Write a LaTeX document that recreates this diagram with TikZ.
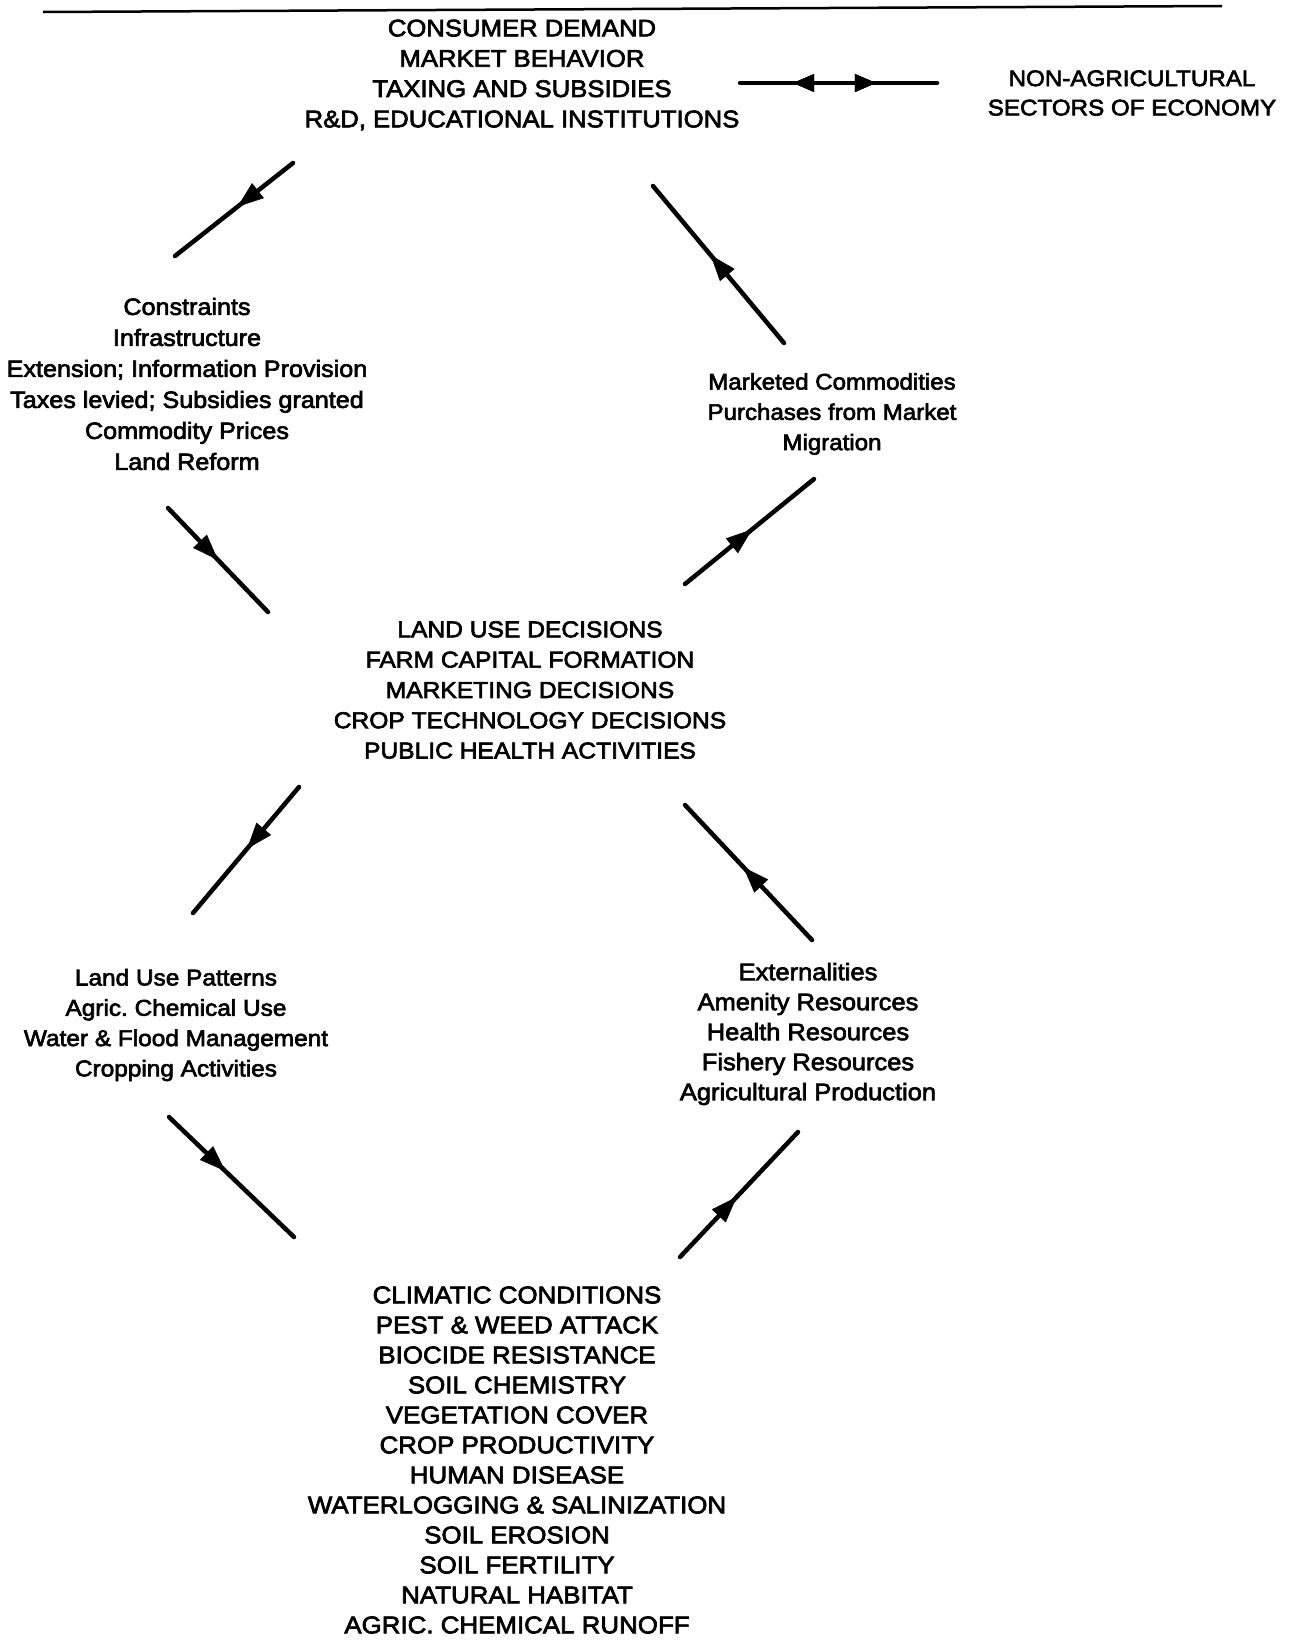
\documentclass[tikz,border=0pt]{standalone}
\usepackage{fontspec}
\setmainfont{Liberation Sans}[FakeStretch=1.07,FakeBold=2.8]
\usetikzlibrary{arrows.meta,decorations.markings}
\newcommand\blkfont[2]{\fontsize{#1}{#2}\selectfont}
\frenchspacing
\tikzset{
  lbl/.style={align=center, inner sep=0pt},
  conn/.style={line width=4.5pt, line cap=round},
  midarr/.style={postaction={decorate}, decoration={markings,
     mark=at position #1 with {\arrow{Triangle[length=26pt,width=19pt,line width=0.5pt]}}}},
  backarr/.style={postaction={decorate}, decoration={markings,
     mark=at position #1 with {\arrowreversed{Triangle[length=21pt,width=18pt,line width=0.5pt]}}}},
  fwdarr/.style={postaction={decorate}, decoration={markings,
     mark=at position #1 with {\arrow{Triangle[length=21pt,width=18pt,line width=0.5pt]}}}},
}
\begin{document}
\begin{tikzpicture}[x=1pt,y=-1pt]
\useasboundingbox (0,0) rectangle (1288,1641);
\fill[white] (0,0) rectangle (1288,1641);

% rule at top
\coordinate (r1) at (43,12);
\coordinate (r2) at (1222,6);
\draw[line width=2.5pt] (r1) -- (r2);

% text blocks
\node[lbl, font=\blkfont{24}{30.3}] (cd) at (522,75)
  {CONSUMER DEMAND\\MARKET BEHAVIOR\\TAXING AND SUBSIDIES\\R\&D, EDUCATIONAL INSTITUTIONS};
\node[lbl, font=\blkfont{22.6}{29.3}] (na) at (1132,93)
  {NON-AGRICULTURAL\\SECTORS OF ECONOMY};
\node[lbl, font=\blkfont{23.5}{31}] (con) at (187,384)
  {Constraints\\Infrastructure\\Extension; Information Provision\\Taxes levied; Subsidies granted\\Commodity Prices\\Land Reform};
\node[lbl, font=\blkfont{22.5}{30.3}] (mkt) at (832,414)
  {Marketed Commodities\\Purchases from Market\\Migration};
\node[lbl, font=\blkfont{23}{30.3}] (lu) at (530,690)
  {LAND USE DECISIONS\\FARM CAPITAL FORMATION\\MARKETING DECISIONS\\CROP TECHNOLOGY DECISIONS\\PUBLIC HEALTH ACTIVITIES};
\node[lbl, font=\blkfont{22.8}{30.3}] (lup) at (176,1025)
  {Land Use Patterns\\Agric. Chemical Use\\Water \& Flood Management\\Cropping Activities};
\node[lbl, font=\blkfont{23.8}{30}] (ext) at (808,1034)
  {Externalities\\Amenity Resources\\Health Resources\\Fishery Resources\\Agricultural Production};
\node[lbl, font=\blkfont{24.2}{30}] (cli) at (517,1460)
  {CLIMATIC CONDITIONS\\PEST \& WEED ATTACK\\BIOCIDE RESISTANCE\\SOIL CHEMISTRY\\VEGETATION COVER\\CROP PRODUCTIVITY\\HUMAN DISEASE\\WATERLOGGING \& SALINIZATION\\SOIL EROSION\\SOIL FERTILITY\\NATURAL HABITAT\\AGRIC. CHEMICAL RUNOFF};

% connector end points
\coordinate (da1) at (740,83);
\coordinate (da2) at (937,83);
\coordinate (a1s) at (293,163);  \coordinate (a1e) at (175,256);
\coordinate (a2s) at (168,508);  \coordinate (a2e) at (268,612);
\coordinate (a3s) at (685,584);  \coordinate (a3e) at (814,479);
\coordinate (a4s) at (784,343);  \coordinate (a4e) at (653,186);
\coordinate (a5s) at (299,787);  \coordinate (a5e) at (193,913);
\coordinate (a6s) at (169,1117); \coordinate (a6e) at (294,1237);
\coordinate (a7s) at (680,1257); \coordinate (a7e) at (798,1132);
\coordinate (a8s) at (812,940);  \coordinate (a8e) at (685,805);

% connectors
\draw[conn, backarr=0.27, fwdarr=0.69] (da1) -- (da2);
\draw[conn, midarr=0.47] (a1s) -- (a1e);
\draw[conn, midarr=0.5]  (a2s) -- (a2e);
\draw[conn, midarr=0.52] (a3s) -- (a3e);
\draw[conn, midarr=0.56] (a4s) -- (a4e);
\draw[conn, midarr=0.49] (a5s) -- (a5e);
\draw[conn, midarr=0.45] (a6s) -- (a6e);
\draw[conn, midarr=0.48] (a7s) -- (a7e);
\draw[conn, midarr=0.54] (a8s) -- (a8e);
\end{tikzpicture}
\end{document}
